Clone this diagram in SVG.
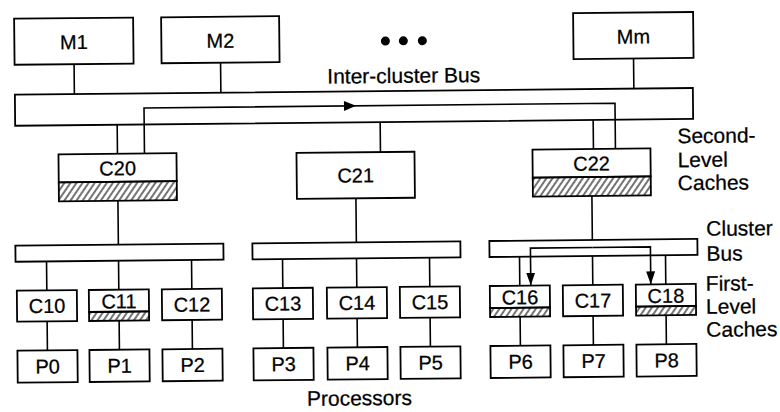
<svg xmlns="http://www.w3.org/2000/svg" width="780" height="412" viewBox="0 0 780 412">
<defs>
<style>
.box{fill:#fff;stroke:#000;stroke-width:1.8}
.hat{fill:url(#hatch);stroke:#000;stroke-width:1.8}
.ln{fill:none;stroke:#000;stroke-width:1.6}
.t{font-family:"Liberation Sans",Arial,sans-serif;font-size:20px;fill:#000;stroke:#000;stroke-width:0.25;text-anchor:middle}
.lb{font-family:"Liberation Sans",Arial,sans-serif;font-size:21px;fill:#000;stroke:#000;stroke-width:0.25}
</style>
<pattern id="hatch" patternUnits="userSpaceOnUse" width="5" height="5" patternTransform="rotate(35)">
<line x1="1" y1="0" x2="1" y2="5" stroke="#000" stroke-width="1.1"/>
</pattern>
<marker id="arr" viewBox="0 0 13 9" refX="13" refY="4.5" markerWidth="13" markerHeight="9" markerUnits="userSpaceOnUse" orient="auto">
<path d="M0,0 L13,4.5 L0,9 z" fill="#000"/>
</marker>
</defs>
<rect width="780" height="412" fill="#fff"/>
<g transform="rotate(-0.57 390 206)">
<g id="connectors">
<path class="ln" d="M75.5,61V91M222,61V91M635,61V91"/>
<path class="ln" d="M118,122V151M381,122V152M594,122V151"/>
<path class="ln" d="M145,151V105.5H357" marker-end="url(#arr)"/>
<path class="ln" d="M356,105.5H616V151"/>
<path class="ln" d="M118,198V242M356,198V242M592,198V242"/>
<path class="ln" d="M46,258V287M118,258V287M191,258V287M282,258V287M356,258V287M429,258V287M519,258V287M592,258V287M665,258V287"/>
<path class="ln" d="M46,318V347M118,318V347M191,318V347M282,318V347M356,318V347M429,318V347M519,318V347M592,318V347M665,318V347"/>
</g>
<g id="M1"><rect class="box" x="16" y="15" width="119" height="46"/><text class="t" x="75.5" y="46">M1</text></g>
<g id="M2"><rect class="box" x="163" y="15" width="118" height="46"/><text class="t" x="222" y="46">M2</text></g>
<g id="dots"><circle cx="387" cy="41" r="4.5"/><circle cx="405" cy="41" r="4.5"/><circle cx="424" cy="41" r="4.5"/></g>
<g id="Mm"><rect class="box" x="575" y="15" width="120" height="46"/><text class="t" x="635" y="46">Mm</text></g>
<text class="lb" x="405" y="83" text-anchor="middle">Inter-cluster Bus</text>
<g id="intercluster-bus"><rect class="box" x="16" y="91" width="678" height="31"/>
<path class="ln" d="M145,122V105.5H616V122"/>
<path d="M345,100.5 L357,105.5 L345,110.5 z" fill="#000"/>
</g>
<g id="C20"><rect class="box" x="59" y="151" width="118" height="28"/><rect class="hat" x="59" y="179" width="118" height="19"/><text class="t" x="118" y="172.5">C20</text></g>
<g id="C21"><rect class="box" x="297" y="152" width="118" height="46"/><text class="t" x="356" y="182">C21</text></g>
<g id="C22"><rect class="box" x="533" y="151" width="118" height="28"/><rect class="hat" x="533" y="179" width="118" height="19"/><text class="t" x="592" y="172.5">C22</text></g>
<text class="lb" x="678" y="146">Second-</text>
<text class="lb" x="678" y="170">Level</text>
<text class="lb" x="678" y="193">Caches</text>
<g id="bus1"><rect class="box" x="15" y="242" width="208" height="16"/></g>
<g id="bus2"><rect class="box" x="252" y="242" width="208" height="16"/></g>
<g id="bus3"><rect class="box" x="489" y="242" width="208" height="16"/>
<path class="ln" d="M592,249.5H530V287" marker-end="url(#arr)"/>
<path class="ln" d="M592,249.5H650V287" marker-end="url(#arr)"/>
</g>
<text class="lb" x="706" y="239">Cluster</text>
<text class="lb" x="706" y="264">Bus</text>
<g id="C10"><rect class="box" x="16" y="287" width="60" height="31"/><text class="t" x="46" y="309.5">C10</text></g>
<g id="C11"><rect class="box" x="88" y="287" width="60" height="22"/><rect class="hat" x="88" y="309" width="60" height="9"/><text class="t" x="118" y="305.5">C11</text></g>
<g id="C12"><rect class="box" x="161" y="287" width="60" height="31"/><text class="t" x="191" y="309.5">C12</text></g>
<g id="C13"><rect class="box" x="252" y="287" width="60" height="31"/><text class="t" x="282" y="309.5">C13</text></g>
<g id="C14"><rect class="box" x="326" y="287" width="60" height="31"/><text class="t" x="356" y="309.5">C14</text></g>
<g id="C15"><rect class="box" x="399" y="287" width="60" height="31"/><text class="t" x="429" y="309.5">C15</text></g>
<g id="C16"><rect class="box" x="489" y="287" width="60" height="22"/><rect class="hat" x="489" y="309" width="60" height="9"/><text class="t" x="519" y="305.5">C16</text></g>
<g id="C17"><rect class="box" x="562" y="287" width="60" height="31"/><text class="t" x="592" y="309.5">C17</text></g>
<g id="C18"><rect class="box" x="635" y="287" width="60" height="22"/><rect class="hat" x="635" y="309" width="60" height="9"/><text class="t" x="665" y="305.5">C18</text></g>
<text class="lb" x="705" y="294">First-</text>
<text class="lb" x="705" y="317">Level</text>
<text class="lb" x="705" y="340">Caches</text>
<g id="P0"><rect class="box" x="16" y="347" width="60" height="32"/><text class="t" x="46" y="370">P0</text></g>
<g id="P1"><rect class="box" x="88" y="347" width="60" height="32"/><text class="t" x="118" y="370">P1</text></g>
<g id="P2"><rect class="box" x="161" y="347" width="60" height="32"/><text class="t" x="191" y="370">P2</text></g>
<g id="P3"><rect class="box" x="252" y="347" width="60" height="32"/><text class="t" x="282" y="370">P3</text></g>
<g id="P4"><rect class="box" x="326" y="347" width="60" height="32"/><text class="t" x="356" y="370">P4</text></g>
<g id="P5"><rect class="box" x="399" y="347" width="60" height="32"/><text class="t" x="429" y="370">P5</text></g>
<g id="P6"><rect class="box" x="489" y="347" width="60" height="32"/><text class="t" x="519" y="370">P6</text></g>
<g id="P7"><rect class="box" x="562" y="347" width="60" height="32"/><text class="t" x="592" y="370">P7</text></g>
<g id="P8"><rect class="box" x="635" y="347" width="60" height="32"/><text class="t" x="665" y="370">P8</text></g>
<text class="lb" x="357.5" y="405" text-anchor="middle">Processors</text>
</g>
</svg>
